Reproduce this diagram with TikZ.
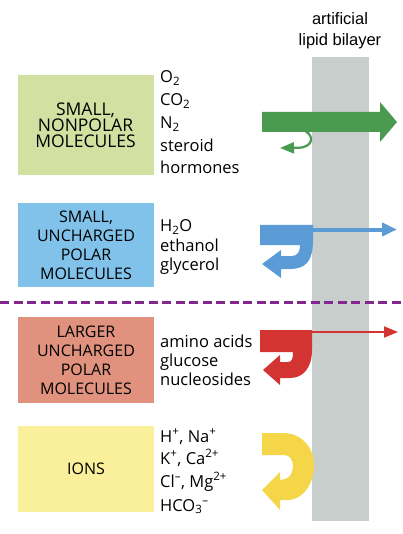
\documentclass[tikz,border=0pt]{standalone}
\usepackage{fontspec}
\setmainfont{Open Sans}
\newfontfamily\hdrfont{Liberation Sans}
\usetikzlibrary{arrows.meta}
\definecolor{bilayergray}{RGB}{200,206,203}
\definecolor{boxgreen}{RGB}{210,225,162}
\definecolor{boxblue}{RGB}{128,194,234}
\definecolor{boxred}{RGB}{224,146,126}
\definecolor{boxyellow}{RGB}{250,240,156}
\definecolor{arrgreen}{RGB}{74,155,80}
\definecolor{arrblue}{RGB}{92,156,214}
\definecolor{arrred}{RGB}{211,52,50}
\definecolor{arryellow}{RGB}{245,214,72}
\definecolor{dashpurple}{RGB}{130,40,140}
\begin{document}
\begin{tikzpicture}[x=1pt,y=-1pt,
  catbox/.style={rectangle, inner sep=0pt, minimum width=136, align=center, text=black},
  listline/.style={anchor=base west, inner sep=0pt, font=\fontsize{16.5}{19}\selectfont},
  hdr/.style={inner sep=0pt, font=\hdrfont\fontsize{16.5}{21}\selectfont, align=center}]
\useasboundingbox (0,0) rectangle (402,534);

% bilayer
\fill[bilayergray] (312,57) rectangle (369,521);
\node[hdr] (header) at (340,31) {artificial\\lipid bilayer};

% boxes
\node[catbox, fill=boxgreen, minimum height=100, font=\fontsize{17.5}{15.8}\selectfont] (bsmallnp) at (85.5,125) {SMALL,\\NONPOLAR\\MOLECULES};
\node[catbox, fill=boxblue, minimum height=84, font=\fontsize{16}{19}\selectfont] (bsmallp) at (86,245) {SMALL,\\UNCHARGED\\POLAR\\MOLECULES};
\node[catbox, fill=boxred, minimum height=86, font=\fontsize{16}{19}\selectfont] (blarge) at (86,360) {LARGER\\UNCHARGED\\POLAR\\MOLECULES};
\node[catbox, fill=boxyellow, minimum height=86, font=\fontsize{16}{19}\selectfont] (bions) at (86,469) {IONS};

% lists
\node[listline] (g1) at (160,83) {O\textsubscript{2}};
\node[listline] (g2) at (160,106) {CO\textsubscript{2}};
\node[listline] (g3) at (160,129) {N\textsubscript{2}};
\node[listline] (g4) at (160,152) {steroid};
\node[listline] (g5) at (160,174) {hormones};

\node[listline] (b1) at (160,232) {H\textsubscript{2}O};
\node[listline] (b2) at (160,251) {ethanol};
\node[listline] (b3) at (160,270) {glycerol};

\node[listline] (r1) at (160,347) {amino acids};
\node[listline] (r2) at (160,366) {glucose};
\node[listline] (r3) at (160,385) {nucleosides};

\node[listline] (y1) at (160,442) {H\textsuperscript{+}, Na\textsuperscript{+}};
\node[listline] (y2) at (160,464) {K\textsuperscript{+}, Ca\textsuperscript{2+}};
\node[listline] (y3) at (160,487) {Cl\textsuperscript{–}, Mg\textsuperscript{2+}};
\node[listline] (y4) at (160,511) {HCO\textsubscript{3}\textsuperscript{–}};

% dashed divider
\coordinate (dl) at (0,302);
\coordinate (dr) at (402,302);
\draw[dashpurple, line width=3, dash pattern=on 9 off 4.5] (dl) -- (dr);

% green arrow
\fill[arrgreen] (262,112) -- (380,112) -- (380,102) -- (397,122) -- (380,142) -- (380,132) -- (262,132) -- cycle;
\coordinate (gs) at (305,131);
\coordinate (ge) at (280,148);
\draw[arrgreen, line width=2.2, -{Triangle[length=14,width=11]}] (gs) .. controls (315,136) and (313,148) .. (297,147.8) -- (ge);

% blue arrows
\fill[arrblue] (260,225) -- (313,225) -- (313,240) .. controls (313,262) and (305,269) .. (290,269) -- (281,269) -- (281,278) -- (262,264) -- (281,250) -- (281,256) -- (292,256) .. controls (298,256) and (300,251) .. (300,245) -- (260,245) -- cycle;
\coordinate (bs) at (300,229.5);
\coordinate (be) at (397,229.5);
\draw[arrblue, line width=4, -{Triangle[length=15,width=13]}] (bs) -- (be);

% red arrows
\fill[arrred] (260,330) -- (312,330) -- (312,350) .. controls (312,368) and (303,378) .. (290,378) -- (280,378) -- (280,385) -- (263,370) -- (280,355) -- (280,362) -- (288,362) .. controls (292,362) and (293,358) .. (293,352) -- (260,352) -- cycle;
\coordinate (rs) at (300,332);
\coordinate (re) at (398,332);
\draw[arrred, line width=2, -{Triangle[length=14,width=11]}] (rs) -- (re);

% yellow arrow
\fill[arryellow] (262,433) -- (283,433) .. controls (302,433) and (314,448) .. (314,465) .. controls (314,485) and (302,500) .. (288,500) -- (280,500) -- (280,510) -- (262,490) -- (280,472) -- (280,480) -- (285,479) .. controls (291,478) and (293,470) .. (293,466) .. controls (293,460) and (290,455) .. (284,455) -- (262,455) -- cycle;
\end{tikzpicture}
\end{document}
